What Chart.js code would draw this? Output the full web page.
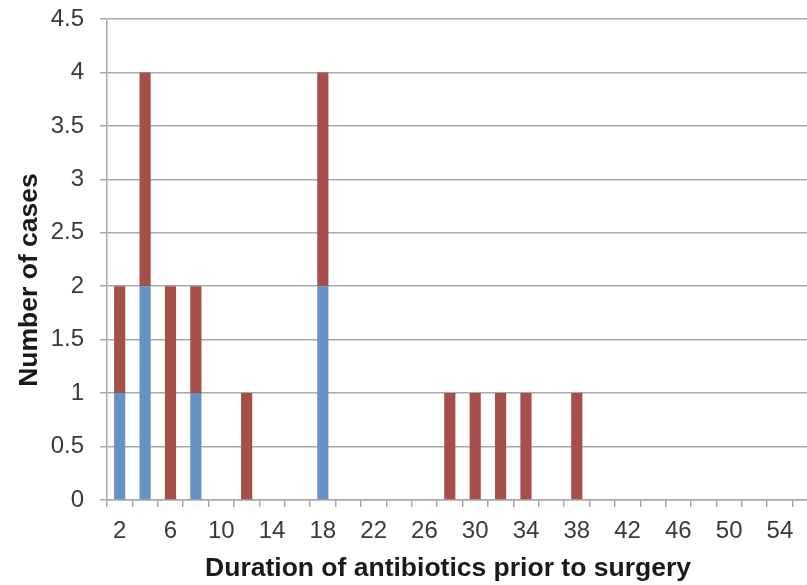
<!DOCTYPE html>
<html>
<head>
<meta charset="utf-8">
<script src="https://cdn.jsdelivr.net/npm/chart.js@4/dist/chart.umd.min.js"></script>
<style>
  html, body { margin: 0; padding: 0; background: #fff; overflow: hidden; }
  #wrap { width: 818px; height: 585px; position: relative; }
</style>
</head>
<body>
<div id="wrap"><canvas id="chart"></canvas></div>
<script>
// duration in days (even categories, the last one runs off the picture's right edge)
const days = [2, 4, 6, 8, 10, 12, 14, 16, 18, 20, 22, 24, 26, 28, 30, 32, 34, 36, 38, 40, 42, 44, 46, 48, 50, 52, 54, 56];
const blueCases = [1, 2, 0, 1, 0, 0, 0, 0, 2, 0, 0, 0, 0, 0, 0, 0, 0, 0, 0, 0, 0, 0, 0, 0, 0, 0, 0, 0];
const redCases  = [1, 2, 2, 1, 0, 1, 0, 0, 2, 0, 0, 0, 0, 1, 1, 1, 1, 0, 1, 0, 0, 0, 0, 0, 0, 0, 0, 0];
const labelledDays = [2, 6, 10, 14, 18, 22, 26, 30, 34, 38, 42, 46, 50, 54];
const xTitle = 'Duration of antibiotics prior to surgery';
const yTitle = 'Number of cases';

const gridGray = '#a9a9a9';
const textGray = '#3a3a3a';
const titleFont = 'bold 26.5px "Liberation Sans", Arial';

// axis titles sit a little off the plot centre in the original, so draw them by hand
const axisTitles = {
    id: 'axisTitles',
    afterDraw(chart) {
        const ctx = chart.ctx;
        ctx.save();
        ctx.font = titleFont;
        ctx.fillStyle = '#1a1a1a';
        ctx.textAlign = 'center';
        ctx.textBaseline = 'middle';
        ctx.fillText(xTitle, 448, 569);
        ctx.translate(30, 280);
        ctx.rotate(-Math.PI / 2);
        ctx.fillText(yTitle, 0, 0);
        ctx.restore();
    }
};

new Chart(document.getElementById('chart'), {
    type: 'bar',
    data: {
        labels: days,
        datasets: [
            { label: 'A', data: blueCases, backgroundColor: '#6492c4', barPercentage: 0.44, categoryPercentage: 1 },
            { label: 'B', data: redCases, backgroundColor: '#a54f4b', barPercentage: 0.44, categoryPercentage: 1 }
        ]
    },
    plugins: [axisTitles],
    options: {
        responsive: true,
        maintainAspectRatio: false,
        animation: false,
        layout: { padding: { top: 19, right: 0, left: 0, bottom: 0 } },
        plugins: { legend: { display: false }, tooltip: { enabled: false } },
        scales: {
            x: {
                stacked: true,
                grid: { offset: true, drawOnChartArea: false, color: gridGray, tickLength: 7, lineWidth: 1.5 },
                border: { color: gridGray, width: 1.5 },
                ticks: {
                    autoSkip: false,
                    maxRotation: 0,
                    color: textGray,
                    padding: 10,
                    font: { family: 'Liberation Sans, Arial', size: 24 },
                    callback: function (v) {
                        const d = days[v];
                        return labelledDays.includes(d) ? String(d) : '';
                    }
                },
                afterFit: function (s) { s.height = 85; }
            },
            y: {
                stacked: true,
                min: 0,
                max: 4.5,
                grid: { color: gridGray, tickLength: 7, lineWidth: 1.5 },
                border: { color: gridGray, width: 1.5 },
                ticks: {
                    stepSize: 0.5,
                    color: textGray,
                    padding: 16,
                    font: { family: 'Liberation Sans, Arial', size: 24 },
                    callback: function (v) { return String(v); }
                },
                afterFit: function (s) {
                    s.width = 107;
                    s.paddingTop = 0;
                    s.paddingBottom = 0;
                }
            }
        }
    }
});
</script>
</body>
</html>
